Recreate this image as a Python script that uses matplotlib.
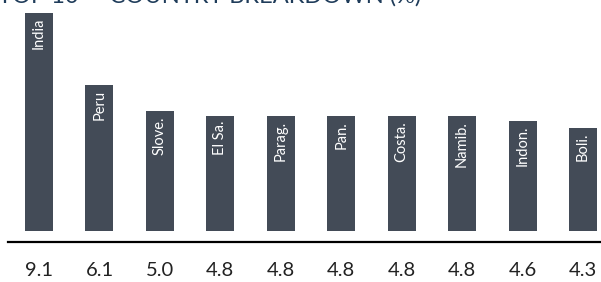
import matplotlib
matplotlib.use("Agg")
import matplotlib.pyplot as plt

plt.rcParams['font.family'] = ['Lato', 'DejaVu Sans']

# data
countries = ["India", "Peru", "Slove.", "El Sa.", "Parag.", "Pan.", "Costa.", "Namib.", "Indon.", "Boli."]
values = [9.1, 6.1, 5.0, 4.8, 4.8, 4.8, 4.8, 4.8, 4.6, 4.3]
value_labels = ["9.1", "6.1", "5.0", "4.8", "4.8", "4.8", "4.8", "4.8", "4.6", "4.3"]
title = "TOP 10 \u2014 COUNTRY BREAKDOWN (%)"

bar_color = "#434b57"
title_color = "#1f3c5a"

W, H = 601, 282
fig = plt.figure(figsize=(W / 100, H / 100), dpi=100)

# axes: zero line at y=231px, bar pitch ~60.4px, first centre at 39px
pitch = 60.44
ax = fig.add_axes([0, (H - 231) / H, 1, 231 / H])
x = list(range(len(values)))
ax.bar(x, values, width=28 / pitch, color=bar_color)
ax.set_xlim(-39 / pitch, (W - 39) / pitch)
ax.set_ylim(0, 231 / 23.96)
ax.axis("off")

# names inside the bars, rotated, near top
for i, (name, v) in enumerate(zip(countries, values)):
    ax.annotate(name, (i, v), xytext=(0, -5), textcoords="offset pixels",
                rotation=90, ha="center", va="top", color="white", fontsize=10.5)

# baseline rule below the bars
ax.axhline(-11 / 23.96, xmin=8 / W, xmax=1, color="black", lw=1.6, clip_on=False)

# values under the rule
for i, lab in enumerate(value_labels):
    ax.annotate(lab, (i, 0), xytext=(0, -40), textcoords="offset pixels",
                ha="center", va="center", color="#222222", fontsize=14.5)

# title, partly cut by the top edge like the source
fig.text(-0.003, 1 - 3 / H, title, fontsize=17, color=title_color,
         ha="left", va="baseline")

fig.savefig("out.png", dpi=100)
